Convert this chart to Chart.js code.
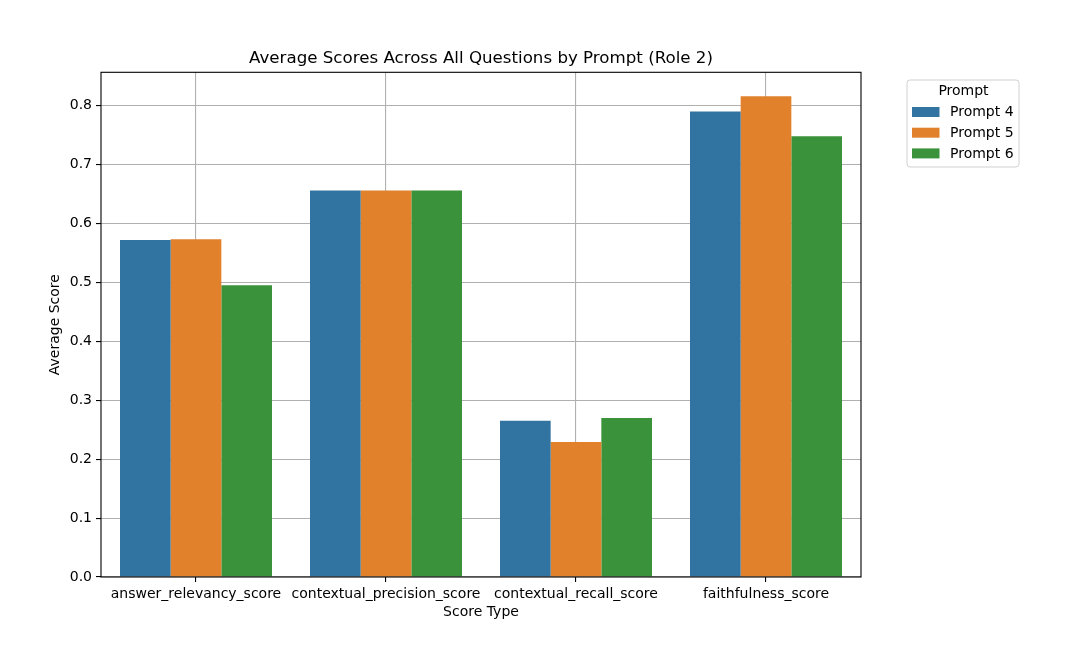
<!DOCTYPE html>
<html>
<head>
<meta charset="utf-8">
<script src="https://cdn.jsdelivr.net/npm/chart.js@4.4.1/dist/chart.umd.min.js"></script>
<style>
  html, body { margin: 0; padding: 0; background: #ffffff; }
  #wrap { position: relative; width: 1069px; height: 670px; }
</style>
</head>
<body>
<div id="wrap"><canvas id="c" width="1069" height="670"></canvas></div>
<script>
const categories = ["answer_relevancy_score", "contextual_precision_score", "contextual_recall_score", "faithfulness_score"];
const seriesNames = ["Prompt 4", "Prompt 5", "Prompt 6"];
const prompt4 = [0.572, 0.656, 0.265, 0.790];
const prompt5 = [0.573, 0.656, 0.229, 0.816];
const prompt6 = [0.495, 0.656, 0.270, 0.748];
const seriesColors = ["#3274a1", "#e1812c", "#3a923a"];
const chartTitle = "Average Scores Across All Questions by Prompt (Role 2)";
const xTitle = "Score Type";
const yTitle = "Average Score";
const legendTitle = "Prompt";
const yMax = 0.8565;

const FONT = "'DejaVu Sans', sans-serif";

const boxPlugin = {
  id: 'boxPlugin',
  afterDraw(chart) {
    const {ctx, chartArea: a} = chart;
    ctx.save();
    ctx.strokeStyle = '#000';
    ctx.lineWidth = 1.1;
    ctx.strokeRect(a.left, a.top, a.right - a.left, a.bottom - a.top);
    // title
    ctx.fillStyle = '#000';
    ctx.font = '16.67px ' + FONT;
    ctx.textAlign = 'center';
    ctx.textBaseline = 'middle';
    ctx.fillText(chartTitle, (a.left + a.right) / 2, 58.5);
    // legend
    const lx = 907, ly = 80, lw = 112, lh = 87;
    ctx.fillStyle = 'rgba(255,255,255,0.8)';
    ctx.strokeStyle = 'rgba(204,204,204,0.9)';
    ctx.lineWidth = 1;
    const r = 3;
    ctx.beginPath();
    ctx.moveTo(lx + r, ly);
    ctx.lineTo(lx + lw - r, ly);
    ctx.arcTo(lx + lw, ly, lx + lw, ly + r, r);
    ctx.lineTo(lx + lw, ly + lh - r);
    ctx.arcTo(lx + lw, ly + lh, lx + lw - r, ly + lh, r);
    ctx.lineTo(lx + r, ly + lh);
    ctx.arcTo(lx, ly + lh, lx, ly + lh - r, r);
    ctx.lineTo(lx, ly + r);
    ctx.arcTo(lx, ly, lx + r, ly, r);
    ctx.closePath();
    ctx.fill();
    ctx.stroke();
    ctx.fillStyle = '#000';
    ctx.font = '14px ' + FONT;
    ctx.textBaseline = 'middle';
    ctx.textAlign = 'center';
    ctx.fillText(legendTitle, lx + lw / 2 + 0.5, ly + 11.5);
    ctx.textAlign = 'left';
    chart.data.datasets.forEach((ds, i) => {
      const cy = 112 + i * 20.7;
      ctx.fillStyle = ds.backgroundColor;
      ctx.fillRect(912, cy - 5, 27.5, 10);
      ctx.fillStyle = '#000';
      ctx.fillText(ds.label, 950, cy + 0.5);
    });
    ctx.restore();
  }
};

new Chart(document.getElementById('c'), {
  type: 'bar',
  data: {
    labels: categories,
    datasets: [
      { label: seriesNames[0], data: prompt4, backgroundColor: seriesColors[0] },
      { label: seriesNames[1], data: prompt5, backgroundColor: seriesColors[1] },
      { label: seriesNames[2], data: prompt6, backgroundColor: seriesColors[2] }
    ]
  },
  options: {
    responsive: false,
    animation: false,
    devicePixelRatio: 1,
    layout: { padding: { left: 0, right: 208, top: 72.3, bottom: 0 } },
    datasets: { bar: { categoryPercentage: 0.8, barPercentage: 1.0, borderWidth: 0 } },
    plugins: {
      legend: { display: false },
      tooltip: { enabled: false },
      title: { display: false }
    },
    scales: {
      x: {
        z: 1,
        grid: { offset: false, color: '#b0b0b0', lineWidth: 1.1, tickLength: 5, tickColor: '#000', drawTicks: true },
        border: { display: false },
        ticks: { color: '#000', font: { family: FONT, size: 14 }, padding: 4, maxRotation: 0, autoSkip: false },
        title: { display: true, text: xTitle, color: '#000', font: { family: FONT, size: 14 }, padding: { top: 2, bottom: 49 } },
        afterFit(scale) { scale.height = 93; }
      },
      y: {
        z: 1,
        min: 0,
        max: yMax,
        afterBuildTicks(scale) {
          const t = [];
          for (let i = 0; i <= 8; i++) t.push({ value: i / 10 });
          scale.ticks = t;
        },
        grid: { color: '#b0b0b0', lineWidth: 1.1, tickLength: 5, tickColor: '#000' },
        border: { display: false },
        ticks: { color: '#000', font: { family: FONT, size: 14 }, padding: 4, callback: v => Number(v).toFixed(1) },
        title: { display: true, text: yTitle, color: '#000', font: { family: FONT, size: 14 }, padding: { top: 47, bottom: 0 } },
        afterFit(scale) { scale.width = 101; }
      }
    }
  },
  plugins: [boxPlugin]
});
</script>
</body>
</html>
